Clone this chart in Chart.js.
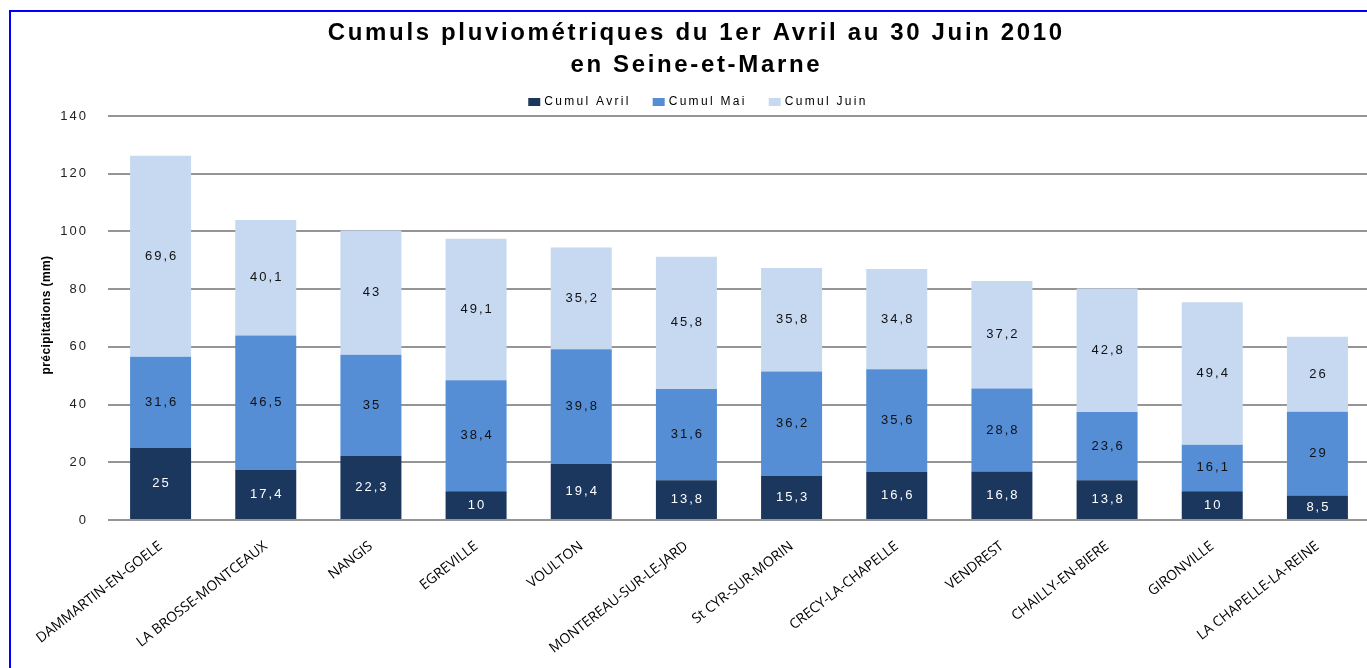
<!DOCTYPE html>
<html><head><meta charset="utf-8">
<script src="https://cdn.jsdelivr.net/npm/chart.js@4.4.1/dist/chart.umd.min.js"></script>
<style>
html,body{margin:0;padding:0;background:#fff;overflow:hidden;width:1367px;height:668px;}
#wrap{position:absolute;left:0;top:0;width:1372px;height:668px;}
#frame{position:absolute;left:9px;top:10px;width:2000px;height:2000px;border-left:2px solid #0000ff;border-top:2px solid #0000ff;pointer-events:none;}
</style></head><body>
<div id="wrap"><canvas id="c" width="1372" height="668"></canvas></div>
<div id="frame"></div>
<script>
const categories = ['DAMMARTIN-EN-GOELE','LA BROSSE-MONTCEAUX','NANGIS','EGREVILLE','VOULTON','MONTEREAU-SUR-LE-JARD','St CYR-SUR-MORIN','CRECY-LA-CHAPELLE','VENDREST','CHAILLY-EN-BIERE','GIRONVILLE','LA CHAPELLE-LA-REINE'];
const avril = [25, 17.4, 22.3, 10, 19.4, 13.8, 15.3, 16.6, 16.8, 13.8, 10, 8.5];
const mai = [31.6, 46.5, 35, 38.4, 39.8, 31.6, 36.2, 35.6, 28.8, 23.6, 16.1, 29];
const juin = [69.6, 40.1, 43, 49.1, 35.2, 45.8, 35.8, 34.8, 37.2, 42.8, 49.4, 26];
const seriesNames = ['Cumul Avril', 'Cumul Mai', 'Cumul Juin'];
const yTickValues = [0, 20, 40, 60, 80, 100, 120, 140];
const titleLines = ['Cumuls pluviométriques du 1er Avril au 30 Juin 2010', 'en Seine-et-Marne'];
const yAxisTitle = 'précipitations (mm)';

const colors = ['#1b375e', '#558ed5', '#c6d9f1'];
const fmt = v => String(v).replace('.', ',');

const decor = {
  id: 'decor',
  afterLayout(chart) {
    const ys = chart.scales.y;
    if (ys && !ys._patched) {
      const orig = ys.drawLabels;
      ys.drawLabels = function (area) {
        const c = this.ctx; c.save(); c.letterSpacing = '2px';
        orig.call(this, area); c.restore();
      };
      ys._patched = true;
    }
  },
  afterDatasetsDraw(chart) {
    const ctx = chart.ctx;
    chart.data.datasets.forEach((ds, di) => {
      const meta = chart.getDatasetMeta(di);
      meta.data.forEach((el, i) => {
        ctx.save();
        ctx.font = '13px Arial';
        ctx.letterSpacing = '2px';
        ctx.fillStyle = di === 0 ? '#ffffff' : '#111111';
        ctx.textAlign = 'center';
        ctx.textBaseline = 'middle';
        ctx.fillText(fmt(ds.data[i]), el.x + 1, (el.y + el.base) / 2);
        ctx.restore();
      });
    });
  },
  afterDraw(chart) {
    const ctx = chart.ctx;
    // Title
    ctx.save();
    ctx.font = 'bold 24px Arial';
    ctx.fillStyle = '#000';
    ctx.textAlign = 'center';
    ctx.textBaseline = 'middle';
    ctx.letterSpacing = '0px';
    const w0 = ctx.measureText(titleLines[0]).width;
    const sp = (737 - w0) / titleLines[0].length;
    ctx.letterSpacing = sp + 'px';
    ctx.fillText(titleLines[0], 695 + sp / 2, 33);
    ctx.fillText(titleLines[1], 695 + sp / 2, 65);
    ctx.restore();

    // Legend
    ctx.save();
    ctx.font = '12px Arial';
    ctx.letterSpacing = '2.3px';
    ctx.textBaseline = 'middle';
    ctx.textAlign = 'left';
    const boxW = 12, boxH = 8, gapBox = 4, gapItem = 22;
    const widths = chart.data.datasets.map(d => ctx.measureText(d.label).width);
    let total = widths.reduce((a, b) => a + b + boxW + gapBox, 0) + gapItem * (widths.length - 1);
    let x = 698 - total / 2;
    const cy = 102;
    chart.data.datasets.forEach((d, i) => {
      ctx.fillStyle = d.backgroundColor;
      ctx.fillRect(x, cy - boxH / 2, boxW, boxH);
      ctx.fillStyle = '#000';
      ctx.fillText(d.label, x + boxW + gapBox, cy);
      x += boxW + gapBox + widths[i] + gapItem;
    });
    ctx.restore();

    // Y axis title
    ctx.save();
    ctx.translate(47, 315);
    ctx.rotate(-Math.PI / 2);
    ctx.font = 'bold 12px Arial';
    ctx.letterSpacing = '0.4px';
    ctx.fillStyle = '#000';
    ctx.textAlign = 'center';
    ctx.textBaseline = 'middle';
    ctx.fillText(yAxisTitle, 0, 0);
    ctx.restore();
  }
};

new Chart(document.getElementById('c'), {
  type: 'bar',
  data: {
    labels: categories,
    datasets: [
      { label: seriesNames[0], data: avril, backgroundColor: colors[0] },
      { label: seriesNames[1], data: mai, backgroundColor: colors[1] },
      { label: seriesNames[2], data: juin, backgroundColor: colors[2] }
    ]
  },
  options: {
    responsive: false,
    animation: false,
    devicePixelRatio: 1,
    datasets: { bar: { barPercentage: 0.58, categoryPercentage: 1 } },
    layout: { padding: { left: 20, top: 116, right: 2, bottom: 0 } },
    plugins: { legend: { display: false }, title: { display: false }, tooltip: { enabled: false } },
    scales: {
      x: {
        stacked: true,
        offset: true,
        grid: { display: false, drawTicks: false },
        border: { display: false },
        ticks: { font: { family: 'Open Sans', size: 14 }, color: '#000', minRotation: 38, maxRotation: 38, padding: 18, autoSkip: false },
        afterFit: s => { s.height = 148; }
      },
      y: {
        stacked: true,
        min: 0,
        max: 140,
        afterBuildTicks: s => { s.ticks = yTickValues.map(v => ({ value: v })); },
        grid: { color: '#959595', lineWidth: 2, drawTicks: false },
        border: { display: false },
        ticks: { font: { family: 'Arial', size: 13 }, color: '#222', padding: 20 },
        afterFit: s => { s.width = 88; }
      }
    }
  },
  plugins: [decor]
});
</script>
</body></html>
